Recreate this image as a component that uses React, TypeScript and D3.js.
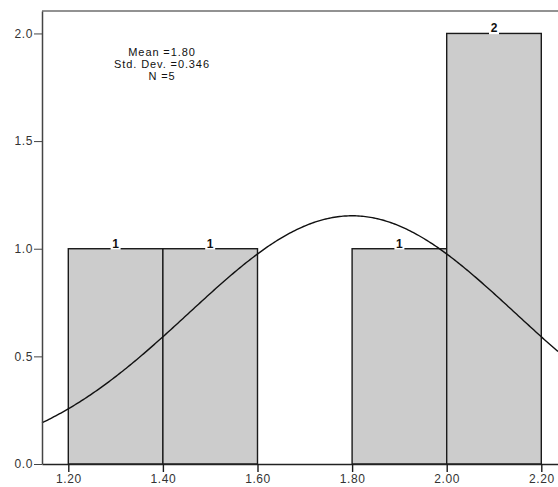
import { useEffect, useRef } from 'react'
import * as d3 from 'd3'

// histogram bins (lower edge, upper edge) and counts
const binStarts = [1.2, 1.4, 1.6, 1.8, 2.0]
const binEnds = [1.4, 1.6, 1.8, 2.0, 2.2]
const binCounts = [1, 1, 0, 1, 2]

const xTicks = [1.2, 1.4, 1.6, 1.8, 2.0, 2.2]
const yTicks = [0, 0.5, 1.0, 1.5, 2.0]

const statMean = 1.8
const statSd = 0.346
const statN = 5
const statLines = ['Mean =1.80', 'Std. Dev. =0.346', 'N =5']

const FONT = 'Liberation Sans, Arial, sans-serif'

const App = () => {
  const svgRef = useRef<SVGSVGElement | null>(null)

  useEffect(() => {
    if (!svgRef.current) return
    const width = 558
    const height = 487
    const margin = { top: 11, right: 0, bottom: 23, left: 42 }

    d3.select(svgRef.current).selectAll('*').remove()
    const svg = d3.select(svgRef.current)
      .attr('width', width)
      .attr('height', height)
      .attr('viewBox', `0 0 ${width} ${height}`)
      .style('font-family', FONT)

    // x: 1.2 -> 68.3, 2.2 -> 541.3
    const pxPerUnit = 473 / 1.0
    const xScale = d3.scaleLinear()
      .domain([1.2 - (68.3 - margin.left) / pxPerUnit, 1.2 + (width - 68.3) / pxPerUnit])
      .range([margin.left, width])

    const yScale = d3.scaleLinear()
      .domain([0, 2.0 + (33.5 - margin.top) / 215.8])
      .range([height - margin.bottom, margin.top])

    const y0 = yScale(0)

    // frame: top line
    svg.append('line')
      .attr('x1', margin.left).attr('x2', width)
      .attr('y1', margin.top).attr('y2', margin.top)
      .attr('stroke', '#6e6e6e').attr('stroke-width', 1.5)

    const bins = binStarts.map((s, i) => ({ s, e: binEnds[i], c: binCounts[i] }))
      .filter(d => d.c > 0)

    // bars
    svg.selectAll('.bar')
      .data(bins)
      .join('rect')
      .attr('class', 'bar')
      .attr('x', d => xScale(d.s))
      .attr('y', d => yScale(d.c))
      .attr('width', d => xScale(d.e) - xScale(d.s))
      .attr('height', d => y0 - yScale(d.c))
      .attr('fill', '#cccccc')
      .attr('stroke', '#1a1a1a')
      .attr('stroke-width', 1.4)

    // count labels with white box
    svg.selectAll('.lblbox')
      .data(bins)
      .join('rect')
      .attr('class', 'lblbox')
      .attr('x', d => xScale((d.s + d.e) / 2) - 5)
      .attr('y', d => yScale(d.c) - 2)
      .attr('width', 10)
      .attr('height', 3)
      .attr('fill', '#fff')

    svg.selectAll('.lbl')
      .data(bins)
      .join('text')
      .attr('class', 'lbl')
      .attr('x', d => xScale((d.s + d.e) / 2))
      .attr('y', d => yScale(d.c) - 1)
      .attr('text-anchor', 'middle')
      .attr('font-size', '12px')
      .attr('font-weight', 'bold')
      .attr('fill', '#111')
      .text(d => d.c)

    // normal curve
    const scaleFactor = statN * (binEnds[0] - binStarts[0])
    const [xa, xb] = xScale.domain()
    const pts = d3.range(0, 301).map(i => {
      const x = xa + (xb - xa) * i / 300
      const z = (x - statMean) / statSd
      return [x, scaleFactor * Math.exp(-0.5 * z * z) / (statSd * Math.sqrt(2 * Math.PI))] as [number, number]
    })
    svg.append('path')
      .attr('d', d3.line<[number, number]>().x(d => xScale(d[0])).y(d => yScale(d[1]))(pts) ?? '')
      .attr('fill', 'none')
      .attr('stroke', '#111')
      .attr('stroke-width', 1.4)

    // x axis
    const xAxis = svg.append('g')
      .attr('transform', `translate(0,${y0})`)
      .call(d3.axisBottom(xScale).tickValues(xTicks).tickFormat(d3.format('.2f')).tickSize(8).tickSizeOuter(0).tickPadding(2))
    xAxis.select('.domain').attr('stroke', '#222').attr('stroke-width', 1.5)
    xAxis.selectAll('line').attr('stroke', '#1a1a1a').attr('stroke-width', 1.4)
    xAxis.selectAll('text').attr('font-size', '12px').attr('fill', '#333')
      .attr('font-family', FONT).attr('letter-spacing', '0.6px')

    // y axis
    const yAxis = svg.append('g')
      .attr('transform', `translate(${margin.left},0)`)
      .call(d3.axisLeft(yScale).tickValues(yTicks).tickFormat(d3.format('.1f')).tickSize(8).tickSizeOuter(0).tickPadding(1))
    yAxis.select('.domain').attr('stroke', '#444').attr('stroke-width', 1.5)
    yAxis.selectAll('line').attr('stroke', '#444')
    yAxis.selectAll('text').attr('font-size', '12px').attr('fill', '#333')
      .attr('font-family', FONT).attr('letter-spacing', '0.6px')

    // stats text
    svg.append('g')
      .selectAll('text')
      .data(statLines)
      .join('text')
      .attr('x', 162)
      .attr('y', (d, i) => 56 + i * 12)
      .attr('text-anchor', 'middle')
      .attr('font-size', '11px')
      .attr('letter-spacing', '0.9px')
      .attr('fill', '#111')
      .text(d => d)
  }, [])

  return (
    <svg ref={svgRef} style={{ position: 'absolute', left: 0, top: 0, background: '#fff' }}></svg>
  )
}

export default App
